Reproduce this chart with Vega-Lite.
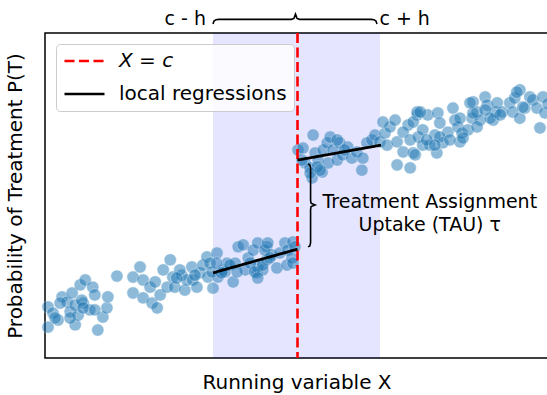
{
  "$schema": "https://vega.github.io/schema/vega-lite/v6.json",
  "width": 503,
  "height": 325,
  "autosize": {"type": "none"},
  "padding": {"left": 45, "top": 33, "right": 0, "bottom": 37},
  "config": {
    "view": {"stroke": "black", "strokeWidth": 1.5},
    "font": "DejaVu Sans",
    "axis": {"ticks": false, "labels": false, "domain": false, "grid": false, "titleFont": "DejaVu Sans", "titleFontSize": 20, "titleFontWeight": "normal", "titleColor": "black"},
    "axisX": {"titlePadding": 14},
    "axisY": {"titlePadding": 20}
  },
  "datasets": {
    "pts": [
      {"x":0.06,"y":0.095},{"x":0.06,"y":0.157},{"x":0.16,"y":0.138},{"x":0.26,"y":0.117},{"x":0.34,"y":0.188},
      {"x":0.44,"y":0.172},{"x":0.50,"y":0.142},{"x":0.54,"y":0.200},{"x":0.60,"y":0.102},{"x":0.66,"y":0.132},
      {"x":0.70,"y":0.225},{"x":0.80,"y":0.240},{"x":0.76,"y":0.169},{"x":0.89,"y":0.148},{"x":0.95,"y":0.218},
      {"x":0.99,"y":0.194},{"x":1.05,"y":0.086},{"x":1.15,"y":0.126},{"x":1.23,"y":0.154},{"x":1.25,"y":0.188},
      {"x":1.43,"y":0.252},{"x":1.75,"y":0.249},{"x":1.75,"y":0.200},{"x":1.89,"y":0.280},{"x":1.95,"y":0.240},
      {"x":1.95,"y":0.185},{"x":2.09,"y":0.218},{"x":2.13,"y":0.169},{"x":2.19,"y":0.234},{"x":2.23,"y":0.154},
      {"x":2.29,"y":0.194},{"x":2.35,"y":0.271},{"x":2.49,"y":0.302},{"x":2.43,"y":0.218},{"x":2.54,"y":0.249},
      {"x":2.58,"y":0.218},{"x":2.72,"y":0.255},{"x":2.78,"y":0.209},{"x":2.82,"y":0.240},{"x":2.92,"y":0.280},
      {"x":2.94,"y":0.240},{"x":3.02,"y":0.218},{"x":3.08,"y":0.262},{"x":3.14,"y":0.286},{"x":3.22,"y":0.311},
      {"x":3.24,"y":0.249},{"x":3.28,"y":0.292},{"x":3.34,"y":0.215},{"x":3.42,"y":0.323},{"x":3.44,"y":0.249},
      {"x":3.54,"y":0.271},{"x":3.62,"y":0.292},{"x":3.74,"y":0.234},{"x":3.78,"y":0.292},{"x":3.84,"y":0.342},
      {"x":3.94,"y":0.348},{"x":3.98,"y":0.271},{"x":4.04,"y":0.308},{"x":4.14,"y":0.332},{"x":4.21,"y":0.262},
      {"x":4.23,"y":0.280},{"x":4.33,"y":0.271},{"x":4.41,"y":0.342},{"x":4.41,"y":0.302},{"x":4.51,"y":0.317},
      {"x":2.68,"y":0.271},{"x":3.32,"y":0.265},{"x":3.58,"y":0.265},{"x":3.68,"y":0.286},{"x":3.82,"y":0.265},
      {"x":4.08,"y":0.292},{"x":4.17,"y":0.265},{"x":4.23,"y":0.354},{"x":4.23,"y":0.246},{"x":4.33,"y":0.286},
      {"x":4.37,"y":0.332},{"x":4.43,"y":0.354},{"x":4.47,"y":0.308},{"x":4.61,"y":0.277},{"x":4.67,"y":0.323},
      {"x":4.77,"y":0.354},{"x":4.81,"y":0.286},{"x":4.83,"y":0.332},{"x":4.91,"y":0.308},{"x":4.93,"y":0.357},
      {"x":4.97,"y":0.342},{"x":4.93,"y":0.292},
      {"x":0.20,"y":0.123},{"x":0.30,"y":0.169},{"x":0.50,"y":0.123},{"x":0.60,"y":0.163},{"x":0.73,"y":0.178},
      {"x":0.76,"y":0.154},{"x":0.99,"y":0.148},{"x":2.62,"y":0.246},{"x":2.98,"y":0.255},{"x":3.41,"y":0.292},
      {"x":3.51,"y":0.262},
      {"x":5.03,"y":0.640},{"x":5.13,"y":0.646},{"x":5.17,"y":0.600},{"x":5.27,"y":0.585},{"x":5.31,"y":0.554},
      {"x":5.33,"y":0.686},{"x":5.37,"y":0.631},{"x":5.43,"y":0.609},{"x":5.51,"y":0.572},{"x":5.53,"y":0.640},
      {"x":5.61,"y":0.662},{"x":5.63,"y":0.600},{"x":5.67,"y":0.680},{"x":5.73,"y":0.640},{"x":5.81,"y":0.609},
      {"x":5.86,"y":0.662},{"x":5.92,"y":0.625},{"x":6.02,"y":0.649},{"x":6.10,"y":0.615},{"x":6.20,"y":0.634},
      {"x":6.30,"y":0.578},{"x":6.32,"y":0.615},{"x":6.40,"y":0.662},{"x":6.50,"y":0.671},{"x":6.56,"y":0.686},
      {"x":6.66,"y":0.665},{"x":6.76,"y":0.692},{"x":6.80,"y":0.655},{"x":6.86,"y":0.711},{"x":6.96,"y":0.732},
      {"x":7.00,"y":0.665},{"x":7.00,"y":0.594},{"x":7.12,"y":0.634},{"x":7.22,"y":0.717},{"x":7.26,"y":0.585},
      {"x":7.32,"y":0.631},{"x":7.40,"y":0.748},
      {"x":5.11,"y":0.609},{"x":5.41,"y":0.588},{"x":5.27,"y":0.569},{"x":5.81,"y":0.671},{"x":5.96,"y":0.640},
      {"x":6.72,"y":0.726},{"x":7.12,"y":0.695},{"x":7.26,"y":0.671},{"x":7.32,"y":0.726},{"x":7.36,"y":0.625},
      {"x":5.47,"y":0.578},
      {"x":7.40,"y":0.757},{"x":7.42,"y":0.680},{"x":7.51,"y":0.702},{"x":7.51,"y":0.655},{"x":7.61,"y":0.748},
      {"x":7.65,"y":0.655},{"x":7.79,"y":0.631},{"x":7.81,"y":0.754},{"x":7.75,"y":0.686},{"x":7.85,"y":0.723},
      {"x":7.91,"y":0.662},{"x":8.01,"y":0.695},{"x":8.11,"y":0.769},{"x":8.15,"y":0.732},{"x":8.21,"y":0.711},
      {"x":8.25,"y":0.665},{"x":8.29,"y":0.692},{"x":8.41,"y":0.702},{"x":8.49,"y":0.738},{"x":8.51,"y":0.788},
      {"x":8.59,"y":0.757},{"x":8.65,"y":0.732},{"x":8.75,"y":0.803},{"x":8.79,"y":0.778},{"x":8.91,"y":0.732},
      {"x":8.95,"y":0.757},{"x":8.99,"y":0.785},{"x":9.09,"y":0.757},{"x":9.24,"y":0.785},{"x":9.30,"y":0.757},
      {"x":9.34,"y":0.800},{"x":9.44,"y":0.825},{"x":9.44,"y":0.738},{"x":9.54,"y":0.769},{"x":9.64,"y":0.803},
      {"x":9.70,"y":0.794},{"x":9.78,"y":0.769},{"x":9.84,"y":0.708},{"x":9.90,"y":0.803},{"x":9.94,"y":0.754},
      {"x":7.59,"y":0.671},{"x":7.85,"y":0.680},{"x":8.05,"y":0.671},{"x":8.25,"y":0.738},{"x":8.51,"y":0.754},
      {"x":8.59,"y":0.711},{"x":8.85,"y":0.738},{"x":10.0,"y":0.782},
      {"x":7.75,"y":0.655},{"x":8.31,"y":0.677},{"x":8.45,"y":0.785},{"x":8.75,"y":0.763},{"x":9.05,"y":0.748},
      {"x":9.38,"y":0.818},{"x":9.50,"y":0.772},{"x":7.46,"y":0.757}
    ]
  },
  "layer": [
    {
      "data": {"values": [{"lo": 3.34, "hi": 6.66}]},
      "mark": {"type": "rect", "color": "blue", "opacity": 0.1},
      "encoding": {
        "x": {"field": "lo", "type": "quantitative", "title": "Running variable X"},
        "x2": {"field": "hi"}
      }
    },
    {
      "data": {"name": "pts"},
      "mark": {"type": "circle", "size": 155, "fill": "#1f77b4", "stroke": "white", "strokeWidth": 0.6, "opacity": 0.5},
      "encoding": {
        "x": {"field": "x", "type": "quantitative", "title": "Running variable X", "scale": {"domain": [0, 10], "nice": false, "zero": false}},
        "y": {"field": "y", "type": "quantitative", "title": "Probability of Treatment P(T)", "scale": {"domain": [0, 1], "nice": false, "zero": false}}
      }
    },
    {
      "data": {"values": [{"x": 5.02, "series": "X = c"}]},
      "mark": {"type": "rule", "strokeWidth": 2.6},
      "encoding": {
        "x": {"field": "x", "type": "quantitative", "title": "Running variable X"},
        "color": {"field": "series", "type": "nominal", "scale": {"domain": ["X = c", "local regressions"], "range": ["#ff0000", "#000000"]},
          "legend": {"title": null, "orient": "none", "legendX": 11, "legendY": 11, "symbolType": "stroke", "symbolSize": 1600, "symbolStrokeWidth": 2.6, "clipHeight": 20, "labelFontSize": 20, "labelFont": "DejaVu Sans", "labelColor": "black", "labelOffset": 13, "labelLimit": 400, "padding": 7, "rowPadding": 13, "fillColor": "rgba(255,255,255,0.8)", "strokeColor": "#cccccc", "cornerRadius": 4,
            "encode": {"labels": {"update": {"fontStyle": {"signal": "datum.label === 'X = c' ? 'italic' : 'normal'"}}}}}},
        "strokeDash": {"field": "series", "type": "nominal", "scale": {"domain": ["X = c", "local regressions"], "range": [[10, 4.5], [1, 0]]},
          "legend": {"title": null, "orient": "none", "legendX": 11, "legendY": 11, "symbolType": "stroke", "symbolSize": 1600, "symbolStrokeWidth": 2.6, "clipHeight": 20, "labelFontSize": 20, "labelFont": "DejaVu Sans", "labelColor": "black", "labelOffset": 13, "labelLimit": 400, "padding": 7, "rowPadding": 13, "fillColor": "rgba(255,255,255,0.8)", "strokeColor": "#cccccc", "cornerRadius": 4,
            "encode": {"labels": {"update": {"fontStyle": {"signal": "datum.label === 'X = c' ? 'italic' : 'normal'"}}}}}}
      }
    },
    {
      "data": {"values": [
        {"x": 3.34, "y": 0.262, "side": "left", "series": "local regressions"},
        {"x": 5.02, "y": 0.335, "side": "left", "series": "local regressions"},
        {"x": 5.02, "y": 0.609, "side": "right", "series": "local regressions"},
        {"x": 6.68, "y": 0.655, "side": "right", "series": "local regressions"}
      ]},
      "mark": {"type": "line", "strokeWidth": 2.8},
      "encoding": {
        "x": {"field": "x", "type": "quantitative", "title": "Running variable X"},
        "y": {"field": "y", "type": "quantitative", "title": "Probability of Treatment P(T)"},
        "detail": {"field": "side"},
        "color": {"field": "series", "type": "nominal"},
        "strokeDash": {"field": "series", "type": "nominal"}
      }
    },
    {
      "data": {"values": [
        {"x": 3.34, "y": 1.028, "brace": "top"},
        {"x": 3.36, "y": 1.037, "brace": "top"},
        {"x": 3.40, "y": 1.041, "brace": "top"},
        {"x": 3.46, "y": 1.042, "brace": "top"},
        {"x": 4.90, "y": 1.042, "brace": "top"},
        {"x": 4.95, "y": 1.045, "brace": "top"},
        {"x": 4.98, "y": 1.058, "brace": "top"},
        {"x": 5.01, "y": 1.045, "brace": "top"},
        {"x": 5.06, "y": 1.042, "brace": "top"},
        {"x": 6.48, "y": 1.042, "brace": "top"},
        {"x": 6.54, "y": 1.041, "brace": "top"},
        {"x": 6.58, "y": 1.037, "brace": "top"},
        {"x": 6.60, "y": 1.028, "brace": "top"},
        {"x": 5.23, "y": 0.597, "brace": "side"},
        {"x": 5.265, "y": 0.594, "brace": "side"},
        {"x": 5.28, "y": 0.585, "brace": "side"},
        {"x": 5.28, "y": 0.485, "brace": "side"},
        {"x": 5.29, "y": 0.476, "brace": "side"},
        {"x": 5.37, "y": 0.471, "brace": "side"},
        {"x": 5.29, "y": 0.466, "brace": "side"},
        {"x": 5.28, "y": 0.457, "brace": "side"},
        {"x": 5.28, "y": 0.355, "brace": "side"},
        {"x": 5.265, "y": 0.345, "brace": "side"},
        {"x": 5.23, "y": 0.342, "brace": "side"}
      ]},
      "mark": {"type": "line", "color": "black", "strokeWidth": 1.6, "clip": false},
      "encoding": {
        "x": {"field": "x", "type": "quantitative", "title": "Running variable X"},
        "y": {"field": "y", "type": "quantitative", "title": "Probability of Treatment P(T)"},
        "detail": {"field": "brace"},
        "order": {"value": null}
      }
    },
    {
      "data": {"values": [
        {"x": 2.79, "y": 1.026, "label": "c - h"},
        {"x": 7.15, "y": 1.026, "label": "c + h"},
        {"x": 7.65, "y": 0.463, "label": "Treatment Assignment"},
        {"x": 7.65, "y": 0.392, "label": "Uptake (TAU) τ"}
      ]},
      "mark": {"type": "text", "align": "center", "baseline": "alphabetic", "fontSize": 19, "font": "DejaVu Sans", "color": "black", "clip": false},
      "encoding": {
        "x": {"field": "x", "type": "quantitative", "title": "Running variable X"},
        "y": {"field": "y", "type": "quantitative", "title": "Probability of Treatment P(T)"},
        "text": {"field": "label"}
      }
    }
  ]
}
